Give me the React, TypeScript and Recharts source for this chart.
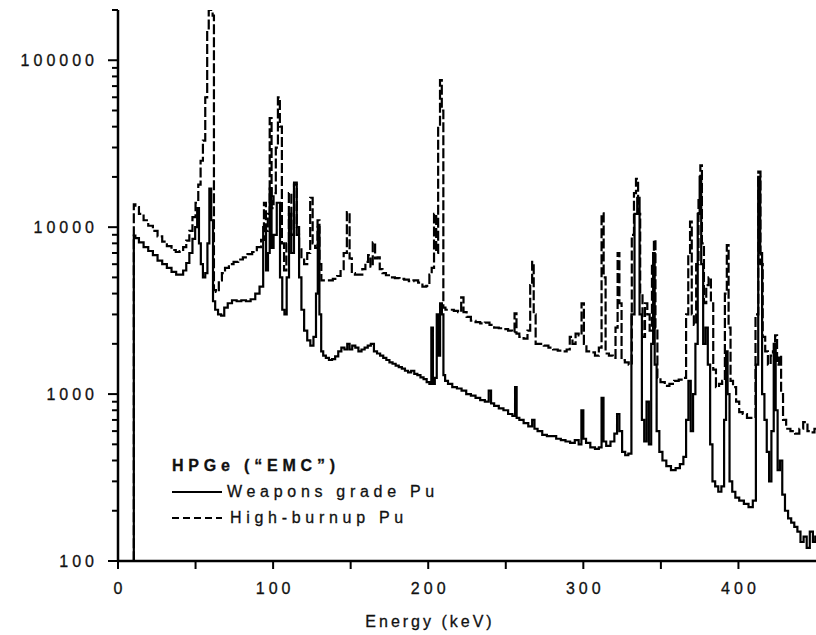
import React from 'react';
import { LineChart, Line, XAxis, YAxis, Legend } from 'recharts';

// Weapons grade Pu (solid) — energy (keV) and counts
const wgEnergy = [
  10, 10.4, 12, 15, 18, 21, 24, 27, 30, 33, 36, 39, 41, 43, 45, 47, 49, 50.5, 51.6, 52.8,
  54, 55.5, 57, 58.3, 59.5, 60.7, 61.8, 63.5, 65.5, 67.5, 69.5, 72, 75, 78, 81, 84, 87, 90, 92.5, 94.7,
  96.2, 97.2, 98.4, 99.6, 101, 103.7, 105.2, 106.6, 108, 109.5, 111, 112.4, 114.5, 116, 117.5, 119, 121, 123, 125, 127,
  128.3, 129.3, 130.4, 131.6, 133, 135, 137, 139, 141, 143, 145, 147, 148.6, 150, 152, 154, 156, 158, 160, 162,
  164, 166, 168, 170, 172, 174, 176, 178, 180, 182, 184, 186, 188, 190, 192, 194, 196, 198, 200, 201.5,
  202.5, 203.5, 205, 206, 207, 208.3, 209.3, 210.3, 211.5, 214, 217, 220, 223, 226, 229, 232, 235, 238, 240, 241,
  244, 247, 250, 253, 255.5, 256.5, 257.5, 260, 263, 266, 268, 269, 272, 275, 278, 281, 284, 287, 290, 293,
  296, 298, 299.5, 300.5, 303, 306, 309, 311, 312.5, 313.5, 316, 319, 321, 322.5, 324, 326, 328, 330, 332, 334,
  335.5, 337, 338.5, 340, 341.5, 343, 344.5, 345.5, 346.5, 348, 350, 352, 355, 358, 361, 363.5, 365.5, 367, 368.5, 370,
  371.5, 373, 374.5, 375.5, 376.5, 378, 379.5, 381, 382.5, 384, 386, 388, 390, 391.5, 392.5, 393.5, 395, 397, 399, 402,
  405, 408, 410.5, 412, 413.5, 414.5, 416, 417.5, 419, 420.5, 422, 423.5, 424.5, 426, 427.5, 429, 431, 433, 435, 437,
  439, 441, 443, 445, 447, 449, 450,
];
const wgCounts = [
  100, 8900, 8600, 8100, 7600, 7200, 6800, 6300, 6000, 5700, 5400, 5200, 5200, 5500, 6100, 7000, 8500, 10000, 13000, 8000,
  6000, 5000, 5300, 8000, 17000, 11000, 3600, 3200, 3000, 2950, 3300, 3500, 3650, 3600, 3650, 3600, 3700, 4000, 4400, 10000,
  5500, 7000, 17000, 7500, 9000, 14000, 5000, 3200, 3000, 5000, 12000, 7000, 18000, 9000, 5000, 3200, 2400, 2100, 1950, 2200,
  4000, 10000, 3000, 1800, 1700, 1650, 1600, 1620, 1680, 1800, 1900, 1850, 2000, 1850, 1950, 1900, 1800, 1850, 1900, 1950,
  2000, 1800, 1750, 1700, 1650, 1600, 1550, 1520, 1480, 1450, 1420, 1380, 1350, 1380, 1320, 1300, 1260, 1230, 1180, 1150,
  2500, 1150, 1250, 3000, 1700, 3500, 3000, 1300, 1200, 1150, 1100, 1080, 1050, 1000, 980, 950, 920, 900, 1050, 880,
  850, 820, 800, 760, 740, 1100, 720, 700, 670, 640, 700, 620, 600, 570, 560, 560, 540, 530, 520, 510,
  530, 500, 800, 540, 510, 480, 470, 480, 950, 520, 490, 520, 580, 760, 600, 450, 430, 440, 3000, 12000,
  15000, 3000, 700, 520, 900, 500, 2000, 7000, 1500, 600, 450, 400, 370, 350, 360, 380, 420, 700, 1200, 600,
  1000, 2000, 12000, 20000, 6000, 2000, 2500, 1500, 500, 300, 280, 260, 280, 700, 1800, 1000, 300, 260, 240, 230,
  220, 210, 230, 1500, 20000, 7000, 1000, 700, 450, 300, 600, 2000, 800, 350, 400, 250, 200, 180, 170, 160,
  150, 130, 140, 120, 150, 130, 140,
];

// High-burnup Pu (dashed)
const hbEnergy = [
  10, 10.4, 12, 15, 18, 21, 24, 27, 30, 33, 36, 38.5, 41, 43, 45, 47, 49, 51, 52.5, 54,
  55.5, 57, 58, 59, 60.5, 61.5, 62.2, 64, 66, 68, 70, 73, 76, 79, 82, 85, 88, 91, 93.5, 94.7,
  96, 97.2, 98.4, 99.6, 101, 102.5, 103.7, 105, 106.3, 107.8, 109.3, 111, 112.5, 114.5, 116, 117.5, 119, 121, 123, 124.8,
  126.2, 128, 129.3, 130.5, 131.7, 134, 137, 140, 142.5, 144.5, 146.5, 148.6, 150, 151.5, 154, 156.5, 158.5, 160.5, 162, 163.5,
  165, 166.5, 168, 169.5, 171.5, 174, 177, 180, 183, 186, 189, 192, 195, 197.5, 200, 201.5, 203, 204.5, 205.8, 207,
  208.2, 209.3, 210.2, 212, 215, 218, 220.5, 222, 223.5, 226, 229, 232, 235, 238, 241, 244, 247, 250, 253, 255,
  256.3, 257.5, 260, 263, 265, 266.5, 267.5, 268.5, 270, 273, 276, 279, 282, 285, 288, 290.5, 292, 294, 296, 298,
  299.7, 301, 303, 306, 309, 311, 312.5, 313.7, 315, 318, 320, 321.5, 322.7, 323.8, 325.5, 328, 330.5, 332, 333.3, 334.6,
  336, 337.3, 339, 340.5, 342, 343.5, 345, 346, 347, 348.5, 351, 354, 357, 360, 363, 365.5, 367, 368.3, 369.3, 370.5,
  372, 373.5, 375, 375.9, 377, 378.5, 380, 381.5, 383, 384.5, 386.5, 388.5, 390.5, 392, 393, 394.3, 395.5, 397.5, 399.5, 401.5,
  404, 407, 410, 412, 413.6, 414.8, 416.5, 418, 420, 421.5, 423, 424.3, 425.5, 427, 428, 429.5, 432, 435, 438, 440.5,
  443, 446, 448, 450,
];
const hbCounts = [
  100, 13700, 13200, 12000, 11000, 10200, 9500, 8800, 8200, 7700, 7300, 7100, 7200, 7600, 8300, 9500, 11500, 14000, 18000, 25000,
  33000, 60000, 150000, 200000, 200000, 185000, 4200, 4100, 4800, 5300, 5700, 6000, 6200, 6400, 6600, 6900, 7100, 7600, 8400, 14000,
  9500, 12000, 45000, 13000, 16000, 30000, 60000, 40000, 8000, 5500, 8000, 16000, 9000, 18500, 10000, 7500, 6500, 6000, 7000, 15000,
  8000, 7500, 11000, 6000, 4800, 4800, 4800, 4900, 5100, 5600, 7000, 12300, 6500, 5300, 5200, 5200, 5600, 6200, 6800, 5800,
  8100, 6500, 6600, 5600, 5300, 5150, 5000, 4950, 4900, 4850, 4750, 4800, 4650, 4400, 4450, 5200, 5700, 12000, 7000, 40000,
  76000, 50000, 3300, 3200, 3200, 3150, 3100, 3800, 3100, 2900, 2750, 2700, 2650, 2680, 2600, 2500, 2480, 2450, 2400, 2350,
  3050, 2300, 2200, 2150, 2400, 4500, 6200, 3000, 2000, 2000, 1950, 1900, 1850, 1820, 1800, 1850, 2200, 2000, 2300, 2250,
  3500, 2000, 1800, 1780, 1700, 1900, 12100, 5000, 1750, 1700, 1650, 2500, 7000, 3500, 1600, 1550, 1500, 9000, 16000, 19500,
  12000, 4000, 2200, 3500, 3000, 2400, 6000, 8400, 2500, 1250, 1180, 1120, 1150, 1200, 1220, 1250, 3000, 7000, 10800, 3000,
  2600, 6000, 15000, 23500, 8000, 3500, 4500, 5000, 3500, 1400, 1100, 1150, 1200, 4000, 7800, 2500, 1200, 1100, 900, 780,
  760, 720, 720, 3000, 21500, 6000, 2200, 1800, 1500, 1700, 1800, 2250, 1500, 1700, 1000, 700, 620, 600, 580, 620,
  680, 600, 590, 620,
];

const legendOrder = ['Weapons grade Pu', 'High-burnup Pu'];
const xTicks = [0, 50, 100, 150, 200, 250, 300, 350, 400];
const xLabelled = [0, 100, 200, 300, 400];
const yTicks = [
  100, 200, 300, 400, 500, 600, 700, 800, 900,
  1000, 2000, 3000, 4000, 5000, 6000, 7000, 8000, 9000,
  10000, 20000, 30000, 40000, 50000, 60000, 70000, 80000, 90000,
  100000, 200000,
];
const yLabelled = [100, 1000, 10000, 100000];

const wgData = wgEnergy.map((e, i) => ({ e, c: wgCounts[i] }));
const hbData = hbEnergy.map((e, i) => ({ e, c: hbCounts[i] }));

const FONT = '"Liberation Sans", Arial, sans-serif';

function YTick(props: any) {
  const { x, y, payload } = props;
  const major = yLabelled.includes(payload.value);
  return (
    <g>
      <line x1={x - (major ? 10 : 6)} x2={x} y1={y} y2={y} stroke="#000" strokeWidth={2} />
      {major && (
        <text x={x - 20} y={y} dy={6} textAnchor="end" fontFamily={FONT} fontSize={16}
          letterSpacing={4} fill="#111" stroke="#111" strokeWidth={0.3}>
          {payload.value}
        </text>
      )}
    </g>
  );
}

function XTick(props: any) {
  const { x, y, payload } = props;
  const major = xLabelled.includes(payload.value);
  return (
    <g>
      <line x1={x} x2={x} y1={y} y2={y + 8} stroke="#000" strokeWidth={2} />
      {major && (
        <text x={x + 2} y={y} dy={33} textAnchor="middle" fontFamily={FONT} fontSize={16}
          letterSpacing={4} fill="#111" stroke="#111" strokeWidth={0.3}>
          {payload.value}
        </text>
      )}
    </g>
  );
}

function LegendBox(props: any) {
  const { payload = [] } = props;
  const items = [...payload].sort(
    (a: any, b: any) => legendOrder.indexOf(a.value) - legendOrder.indexOf(b.value),
  );
  return (
    <div style={{ fontFamily: FONT, fontSize: 16, letterSpacing: 4.7, color: '#111', lineHeight: '26px',
      WebkitTextStroke: '0.3px #111' }}>
      <div style={{ fontWeight: 'bold', letterSpacing: 4.8 }}>HPGe (“EMC”)</div>
      {items.map((entry: any) => {
        const dashed = entry.value === 'High-burnup Pu';
        return (
          <div key={entry.value} style={{ display: 'flex', alignItems: 'center' }}>
            <svg width={52} height={6} style={{ display: 'block' }}>
              <line x1={0} x2={50} y1={3} y2={3} stroke="#000" strokeWidth={2}
                strokeDasharray={dashed ? '7 4' : undefined} />
            </svg>
            <span style={{ marginLeft: dashed ? 6 : 3 }}>{entry.value}</span>
          </div>
        );
      })}
    </div>
  );
}

export default function App() {
  return (
    <div style={{ position: 'absolute', left: 0, top: 0, background: '#fff' }}>
      <LineChart width={816} height={635} margin={{ top: 10, right: 0, bottom: 0, left: 0 }}>
        <XAxis
          type="number"
          dataKey="e"
          domain={[0, 450]}
          ticks={xTicks}
          allowDataOverflow
          height={74}
          tickSize={0}
          tickMargin={0}
          tickLine={false}
          tick={<XTick />}
          axisLine={{ stroke: '#000', strokeWidth: 2.5 }}
          label={({ viewBox }: any) => (
            <text x={viewBox.x + 312} y={viewBox.y + 66} textAnchor="middle" fontFamily={FONT}
              fontSize={16} letterSpacing={3} fill="#111" stroke="#111" strokeWidth={0.3}>
              Energy (keV)
            </text>
          )}
        />
        <YAxis
          type="number"
          dataKey="c"
          scale="log"
          domain={[100, 200000]}
          ticks={yTicks}
          allowDataOverflow
          width={118}
          tickSize={0}
          tickMargin={0}
          tickLine={false}
          tick={<YTick />}
          interval={0}
          axisLine={{ stroke: '#000', strokeWidth: 2.5 }}
        />
        <Legend
          layout="vertical"
          align="center"
          verticalAlign="middle"
          content={<LegendBox />}
          wrapperStyle={{ left: 172, top: 453, width: 320, height: 80 }}
        />
        <Line
          data={wgData}
          dataKey="c"
          name="Weapons grade Pu"
          type="step"
          stroke="#000"
          strokeWidth={2.2}
          dot={false}
          isAnimationActive={false}
        />
        <Line
          data={hbData}
          dataKey="c"
          name="High-burnup Pu"
          type="step"
          stroke="#000"
          strokeWidth={2.2}
          strokeDasharray="10 3"
          dot={false}
          isAnimationActive={false}
        />
      </LineChart>
    </div>
  );
}
